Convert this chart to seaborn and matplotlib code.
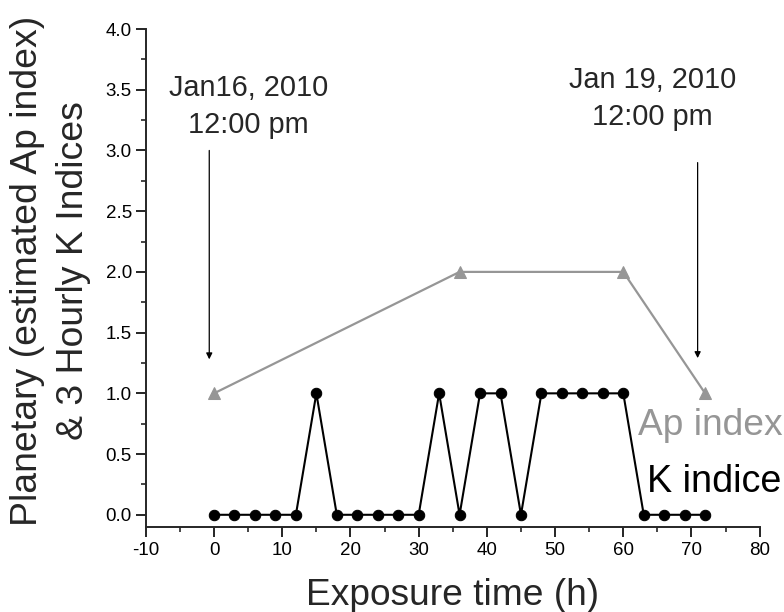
import matplotlib
matplotlib.use("Agg")
import matplotlib.pyplot as plt
from matplotlib.ticker import MultipleLocator
import seaborn as sns
import pandas as pd

# ---- data ----
k_hours = [0, 3, 6, 9, 12, 15, 18, 21, 24, 27, 30, 33, 36, 39, 42, 45,
           48, 51, 54, 57, 60, 63, 66, 69, 72]
k_values = [0, 0, 0, 0, 0, 1, 0, 0, 0, 0, 0, 1, 0, 1, 1, 0,
            1, 1, 1, 1, 1, 0, 0, 0, 0]
ap_hours = [0, 36, 60, 72]
ap_values = [1, 2, 2, 1]

x_label = "Exposure time (h)"
y_label = "Planetary (estimated Ap index)\n& 3 Hourly K Indices"
left_note = "Jan16, 2010\n12:00 pm"
right_note = "Jan 19, 2010\n12:00 pm"
ap_label = "Ap index"
k_label = "K indice"

sns.set_style("ticks")
plt.rcParams['font.family'] = ['Liberation Sans', 'DejaVu Sans']

AP_COLOR = "#969696"

fig = plt.figure(figsize=(7.84, 6.12), dpi=100)
ax = fig.add_axes([0.186, 0.139, 0.783, 0.8136])

ap_df = pd.DataFrame({"hour": ap_hours, "value": ap_values})
k_df = pd.DataFrame({"hour": k_hours, "value": k_values})

sns.lineplot(data=ap_df, x="hour", y="value", ax=ax, color=AP_COLOR,
             lw=1.6, marker="^", markersize=9, markeredgecolor=AP_COLOR,
             markerfacecolor=AP_COLOR, zorder=2)
sns.lineplot(data=k_df, x="hour", y="value", ax=ax, color="black",
             lw=1.5, marker="o", markersize=7.5, markeredgecolor="black",
             markerfacecolor="black", zorder=3)

ax.set_xlim(-10, 80)
ax.set_ylim(-0.1, 4.0)
ax.xaxis.set_major_locator(MultipleLocator(10))
ax.xaxis.set_minor_locator(MultipleLocator(5))
ax.yaxis.set_major_locator(MultipleLocator(0.5))
ax.yaxis.set_minor_locator(MultipleLocator(0.25))
ax.yaxis.set_major_formatter(plt.FormatStrFormatter("%.1f"))
ax.xaxis.set_major_formatter(plt.FormatStrFormatter("%d"))

sns.despine(ax=ax)
for s in ["left", "bottom"]:
    ax.spines[s].set_linewidth(1.4)
ax.tick_params(which="major", direction="out", length=7, width=1.2,
               labelsize=13.5, colors="black")
ax.tick_params(axis="y", which="major", pad=3)
ax.tick_params(axis="x", which="major", pad=4)
ax.tick_params(which="minor", direction="out", length=3.8, width=1.2)

ax.set_xlabel(x_label, fontsize=26.7, va="baseline")
ax.xaxis.set_label_coords(0.5, -0.157)
ax.set_ylabel(y_label, fontsize=26.9, va="center", ha="center",
              multialignment="center", linespacing=1.4)
ax.yaxis.set_label_coords(-0.155, 0.514)

# annotations
ax.text(5.0, 3.63, left_note, fontsize=20.8, ha="center", va="top",
        multialignment="center", linespacing=1.41)
ax.text(64.3, 3.695, right_note, fontsize=20.8, ha="center", va="top",
        multialignment="center", linespacing=1.41)
arrow = dict(arrowstyle="-|>", lw=0.9, color="black", mutation_scale=9,
             shrinkA=0, shrinkB=0)
ax.annotate("", xy=(-0.7, 1.28), xytext=(-0.7, 3.0), arrowprops=arrow)
ax.annotate("", xy=(70.9, 1.29), xytext=(70.9, 2.9), arrowprops=arrow)

ax.text(62.2, 0.658, ap_label, fontsize=26.7, color=AP_COLOR, ha="left",
        va="baseline")
ax.text(63.5, 0.19, k_label, fontsize=27.2, color="black", ha="left",
        va="baseline")

fig.savefig("out.png", dpi=100)
